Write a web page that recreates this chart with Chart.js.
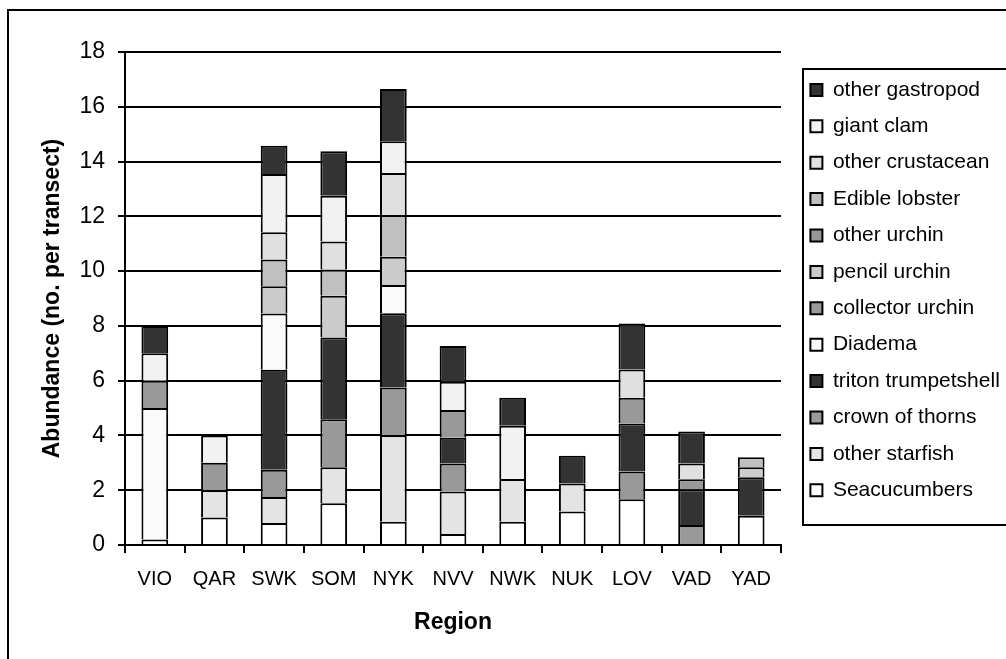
<!DOCTYPE html>
<html>
<head>
<meta charset="utf-8">
<title>Abundance by region</title>
<script src="https://cdn.jsdelivr.net/npm/chart.js@4.4.0/dist/chart.umd.min.js"></script>
<style>
  html, body { margin: 0; padding: 0; background: #ffffff; }
  canvas { display: block; }
</style>
</head>
<body>
<canvas id="chart" width="1006" height="659"></canvas>
<script>
// Regions along the x axis
const regions = ['VIO', 'QAR', 'SWK', 'SOM', 'NYK', 'NVV', 'NWK', 'NUK', 'LOV', 'VAD', 'YAD'];

// Mean abundance (no. per transect) per group, stacked bottom to top
const seacucumbers       = [0.20, 1.00, 0.80, 1.52, 0.85, 0.40, 0.85, 1.22, 1.67, 0.00, 1.07];
const otherStarfish      = [0.00, 1.00, 0.95, 1.32, 3.16, 1.55, 1.56, 1.03, 0.00, 0.00, 0.00];
const crownOfThorns      = [0.00, 1.00, 1.00, 1.75, 1.74, 1.03, 0.00, 0.00, 1.01, 0.73, 0.00];
const tritonTrumpetshell = [0.00, 0.00, 3.65, 2.99, 2.71, 0.94, 0.00, 0.00, 1.76, 1.30, 1.40];
const diadema            = [4.80, 0.00, 2.05, 0.00, 1.03, 0.00, 0.00, 0.00, 0.00, 0.00, 0.00];
const collectorUrchin    = [1.00, 0.00, 0.00, 0.00, 0.00, 1.01, 0.00, 0.00, 0.94, 0.37, 0.00];
const pencilUrchin       = [0.00, 0.00, 1.00, 1.52, 1.03, 0.00, 0.00, 0.00, 0.00, 0.00, 0.37];
const otherUrchin        = [0.00, 0.00, 0.00, 0.00, 0.00, 0.00, 0.00, 0.00, 0.00, 0.00, 0.00];
const edibleLobster      = [0.00, 0.00, 0.97, 0.96, 1.52, 0.00, 0.00, 0.00, 0.00, 0.00, 0.36];
const otherCrustacean    = [0.00, 0.00, 1.00, 1.02, 1.54, 0.00, 0.00, 0.00, 1.03, 0.58, 0.00];
const giantClam          = [1.00, 1.00, 2.13, 1.67, 1.16, 1.03, 1.94, 0.00, 0.00, 0.00, 0.00];
const otherGastropod     = [1.00, 0.00, 1.03, 1.63, 1.91, 1.31, 1.03, 1.01, 1.68, 1.16, 0.00];

const seriesNames = [
  'Seacucumbers', 'other starfish', 'crown of thorns', 'triton trumpetshell', 'Diadema',
  'collector urchin', 'pencil urchin', 'other urchin', 'Edible lobster', 'other crustacean',
  'giant clam', 'other gastropod'
];
const seriesValues = [
  seacucumbers, otherStarfish, crownOfThorns, tritonTrumpetshell, diadema,
  collectorUrchin, pencilUrchin, otherUrchin, edibleLobster, otherCrustacean,
  giantClam, otherGastropod
];

// Y axis tick values
const yTicks = [0, 2, 4, 6, 8, 10, 12, 14, 16, 18];

// Grey fills, one per group
const seriesFills = [
  '#ffffff', '#e4e4e4', '#999999', '#333333', '#fafafa',
  '#999999', '#cccccc', '#969696', '#c0c0c0', '#e0e0e0',
  '#f2f2f2', '#333333'
];

const FONT = "'Liberation Sans', Arial, Helvetica, sans-serif";

// White page background
const pageBackground = {
  id: 'pageBackground',
  beforeDraw(chart) {
    const ctx = chart.ctx;
    ctx.save();
    ctx.fillStyle = '#ffffff';
    ctx.fillRect(0, 0, chart.width, chart.height);
    ctx.restore();
  }
};

// Place the legend block to the right of the plot
const legendPlacement = {
  id: 'legendPlacement',
  afterLayout(chart) {
    const lg = chart.legend;
    if (!lg) return;
    lg.left = 795;
    lg.top = 64;
    lg.right = chart.width;
    lg.bottom = chart.height;
    lg.width = lg.right - lg.left;
    lg.height = lg.bottom - lg.top;
  }
};

// Outer chart frame and the legend box outline
const frames = {
  id: 'frames',
  afterDraw(chart) {
    const ctx = chart.ctx;
    ctx.save();
    ctx.strokeStyle = '#000000';
    ctx.lineWidth = 2;
    ctx.strokeRect(8, 10, chart.width + 40, chart.height + 40);
    ctx.lineWidth = 2;
    ctx.strokeRect(803, 69, chart.width, 456);
    ctx.restore();
  }
};

new Chart(document.getElementById('chart'), {
  type: 'bar',
  data: {
    labels: regions,
    datasets: seriesNames.map((name, i) => ({
      label: name,
      data: seriesValues[i],
      backgroundColor: seriesFills[i],
      borderColor: '#000000',
      borderWidth: 2,
      categoryPercentage: 0.8,
      barPercentage: 0.56
    }))
  },
  options: {
    responsive: false,
    animation: false,
    events: [],
    layout: { padding: { left: 0, top: 52, right: 25, bottom: 0 } },
    plugins: {
      legend: {
        position: 'right',
        align: 'start',
        reverse: true,
        maxWidth: 200,
        labels: {
          color: '#000000',
          font: { family: FONT, size: 21 },
          boxWidth: 12,
          boxHeight: 12,
          padding: 15.4
        }
      },
      tooltip: { enabled: false }
    },
    scales: {
      x: {
        stacked: true,
        grid: { offset: true, drawOnChartArea: false, tickLength: 8, color: '#000000', lineWidth: 2 },
        border: { display: true, color: '#000000', width: 2 },
        ticks: { color: '#000000', font: { family: FONT, size: 20 }, padding: 14, maxRotation: 0, autoSkip: false },
        title: {
          display: true, text: 'Region', color: '#000000',
          font: { family: FONT, size: 23, weight: 'bold' },
          padding: { top: 0, bottom: 23 }
        },
        afterFit(scale) { scale.height = 114; }
      },
      y: {
        stacked: true,
        min: yTicks[0],
        max: yTicks[yTicks.length - 1],
        afterBuildTicks(scale) { scale.ticks = yTicks.map(v => ({ value: v })); },
        grid: { color: '#000000', lineWidth: 2, tickLength: 7 },
        border: { display: true, color: '#000000', width: 2 },
        ticks: { color: '#000000', font: { family: FONT, size: 23 }, padding: 13 },
        title: {
          display: true, text: 'Abundance (no. per transect)', color: '#000000',
          font: { family: FONT, size: 23, weight: 'bold' },
          padding: { top: 39, bottom: 0 }
        },
        afterFit(scale) { scale.width = 125; }
      }
    }
  },
  plugins: [pageBackground, legendPlacement, frames]
});
</script>
</body>
</html>
